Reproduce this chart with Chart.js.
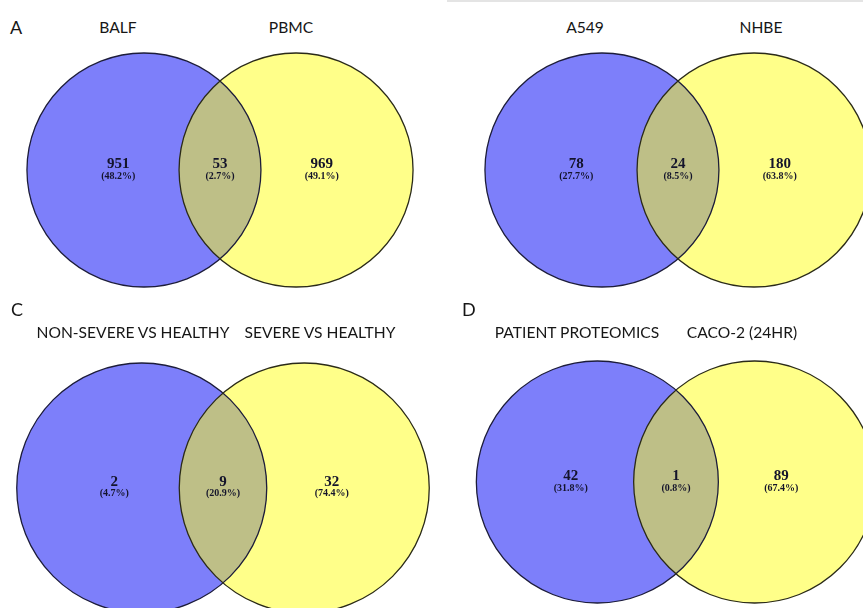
<!DOCTYPE html>
<html>
<head>
<meta charset="utf-8" />
<title>Venn diagrams</title>
<script src="https://cdn.jsdelivr.net/npm/chart.js@4.4.1/dist/chart.umd.min.js"></script>
<style>
    body { margin: 0; background: #fff; }
    #fig { position: relative; width: 863px; height: 608px; overflow: hidden; }
    #fig canvas { position: absolute; }
    .lbl { position: absolute; font-family: Lato, "Open Sans", sans-serif; color: #161616;
           white-space: nowrap; transform: translate(-50%, -50%); }
    .setname { font-size: 15.6px; }
    .letter { font-size: 18px; transform: translate(0, -50%); }
    #topline { position: absolute; left: 447px; top: 0; width: 416px; height: 2px; background: #e4e4e4; }
</style>
</head>
<body>
<div id="fig"><div id="topline"></div></div>

<script>
    // ---- data ----
    var panelLetters = ['A', '', 'C', 'D'];
    var setNames = [
        ['BALF', 'PBMC'],
        ['A549', 'NHBE'],
        ['NON-SEVERE VS HEALTHY', 'SEVERE VS HEALTHY'],
        ['PATIENT PROTEOMICS', 'CACO-2 (24HR)']
    ];
    // only left, overlap, only right
    var counts = [
        [951, 53, 969],
        [78, 24, 180],
        [2, 9, 32],
        [42, 1, 89]
    ];
    var percents = [
        [48.2, 2.7, 49.1],
        [27.7, 8.5, 63.8],
        [4.7, 20.9, 74.4],
        [31.8, 0.8, 67.4]
    ];

    // ---- layout (pixels) ----
    // cx, cy: middle of the overlap; r: circle radius; box: canvas placement
    var panels = [
        { cx: 220, cy: 170, r: 117, box: [0, 40, 432, 264],
          letter: [10, 27], names: [[118, 27], [291, 27]] },
        { cx: 678, cy: 170, r: 117, box: [432, 40, 431, 264],
          letter: [440, 27], names: [[585, 27], [761, 27]] },
        { cx: 223, cy: 488, r: 125, box: [0, 345, 432, 263],
          letter: [11, 309], names: [[133, 332], [320, 332]] },
        { cx: 676, cy: 482, r: 121, box: [432, 345, 431, 263],
          letter: [462, 309], names: [[577, 332], [742, 332]] }
    ];
    var circleX = [-0.65, 0.65];       // circle centres, in radius units
    var labelX = [-0.87, 0, 0.87];     // count label positions
    var labelY = 0.05;

    var fig = document.getElementById('fig');

    function addText(cls, text, x, y) {
        var d = document.createElement('div');
        d.className = 'lbl ' + cls;
        d.textContent = text;
        d.style.left = x + 'px';
        d.style.top = y + 'px';
        fig.appendChild(d);
    }

    // draws the counts and percentages at their scale positions
    var countLabels = {
        id: 'countLabels',
        afterDatasetsDraw: function (chart) {
            var i = chart.options.plugins.countLabels.panel;
            var ctx = chart.ctx;
            var xs = chart.scales.x, ys = chart.scales.y;
            ctx.save();
            ctx.textAlign = 'center';
            ctx.textBaseline = 'middle';
            ctx.fillStyle = '#14142b';
            for (var k = 0; k < 3; k++) {
                var px = xs.getPixelForValue(labelX[k]);
                var py = ys.getPixelForValue(labelY);
                ctx.font = 'bold 15px "Liberation Serif", serif';
                ctx.fillText(String(counts[i][k]), px, py);
                ctx.font = 'bold 10px "Liberation Serif", serif';
                ctx.fillText('(' + percents[i][k].toFixed(1) + '%)', px, py + 12);
            }
            ctx.restore();
        }
    };

    panels.forEach(function (p, i) {
        var b = p.box;
        var c = document.createElement('canvas');
        c.style.left = b[0] + 'px';
        c.style.top = b[1] + 'px';
        c.style.width = b[2] + 'px';
        c.style.height = b[3] + 'px';
        c.width = b[2];
        c.height = b[3];
        fig.appendChild(c);

        if (panelLetters[i]) addText('letter', panelLetters[i], p.letter[0], p.letter[1]);
        addText('setname', setNames[i][0], p.names[0][0], p.names[0][1]);
        addText('setname', setNames[i][1], p.names[1][0], p.names[1][1]);

        var chart = new Chart(c, {
            type: 'scatter',
            data: {
                datasets: [
                    { label: setNames[i][0], data: [{ x: circleX[0], y: 0 }],
                      backgroundColor: 'rgba(5, 10, 245, 0.52)', borderWidth: 0, order: 4 },
                    { label: setNames[i][1], data: [{ x: circleX[1], y: 0 }],
                      backgroundColor: 'rgba(255, 255, 20, 0.5)', borderWidth: 0, order: 3 },
                    { label: 'outline1', data: [{ x: circleX[0], y: 0 }],
                      backgroundColor: 'rgba(0,0,0,0)', borderColor: '#1c1c3a', borderWidth: 1.3, order: 2 },
                    { label: 'outline2', data: [{ x: circleX[1], y: 0 }],
                      backgroundColor: 'rgba(0,0,0,0)', borderColor: '#2a2a18', borderWidth: 1.3, order: 1 }
                ]
            },
            options: {
                responsive: false,
                animation: false,
                events: [],
                clip: false,
                layout: { padding: 0, autoPadding: false },
                scales: {
                    x: { display: false, min: (b[0] - p.cx) / p.r, max: (b[0] + b[2] - p.cx) / p.r },
                    y: { display: false, min: (p.cy - b[1] - b[3]) / p.r, max: (p.cy - b[1]) / p.r }
                },
                plugins: {
                    legend: { display: false },
                    tooltip: { enabled: false },
                    countLabels: { panel: i }
                }
            },
            plugins: [countLabels]
        });

        // circle radius = one unit on the x scale
        var unit = chart.scales.x.getPixelForValue(1) - chart.scales.x.getPixelForValue(0);
        chart.data.datasets.forEach(function (ds) { ds.pointRadius = unit; ds.pointHoverRadius = unit; });
        chart.update();
    });
</script>
</body>
</html>
